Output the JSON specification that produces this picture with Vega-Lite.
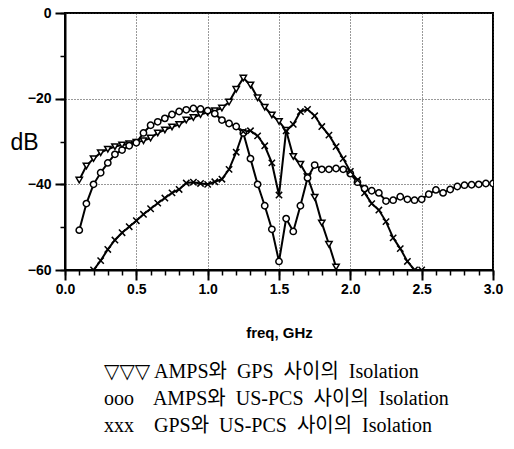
{
  "$schema": "https://vega.github.io/schema/vega-lite/v6.json",
  "width": 428,
  "height": 257,
  "autosize": {"type": "none"},
  "padding": {"left": 65, "top": 13, "right": 21, "bottom": 179},
  "background": "white",
  "config": {
    "view": {"stroke": "black", "strokeWidth": 2},
    "axisX": {"tickSize": 10, "ticks": true, "tickColor": "#000000", "tickWidth": 2},
    "axisY": {"tickSize": 10, "ticks": true, "tickColor": "#000000", "tickWidth": 2}
  },
  "resolve": {"axis": {"x": "independent", "y": "independent"}},
  "data": {
    "values": [
      {"f": 0.10, "d": -39.0, "s": "a"},
      {"f": 0.15, "d": -35.7, "s": "a"},
      {"f": 0.20, "d": -34.0, "s": "a"},
      {"f": 0.25, "d": -32.6, "s": "a"},
      {"f": 0.30, "d": -31.8, "s": "a"},
      {"f": 0.35, "d": -31.2, "s": "a"},
      {"f": 0.40, "d": -30.8, "s": "a"},
      {"f": 0.45, "d": -30.5, "s": "a"},
      {"f": 0.50, "d": -30.2, "s": "a"},
      {"f": 0.55, "d": -29.8, "s": "a"},
      {"f": 0.60, "d": -29.2, "s": "a"},
      {"f": 0.65, "d": -28.0, "s": "a"},
      {"f": 0.70, "d": -27.3, "s": "a"},
      {"f": 0.75, "d": -26.6, "s": "a"},
      {"f": 0.80, "d": -26.0, "s": "a"},
      {"f": 0.85, "d": -25.0, "s": "a"},
      {"f": 0.90, "d": -24.4, "s": "a"},
      {"f": 0.95, "d": -23.7, "s": "a"},
      {"f": 1.00, "d": -23.2, "s": "a"},
      {"f": 1.05, "d": -22.8, "s": "a"},
      {"f": 1.10, "d": -22.2, "s": "a"},
      {"f": 1.15, "d": -20.8, "s": "a"},
      {"f": 1.20, "d": -17.8, "s": "a"},
      {"f": 1.25, "d": -15.2, "s": "a"},
      {"f": 1.30, "d": -16.8, "s": "a"},
      {"f": 1.35, "d": -19.8, "s": "a"},
      {"f": 1.40, "d": -22.0, "s": "a"},
      {"f": 1.45, "d": -23.8, "s": "a"},
      {"f": 1.50, "d": -25.3, "s": "a"},
      {"f": 1.55, "d": -27.4, "s": "a"},
      {"f": 1.60, "d": -33.5, "s": "a"},
      {"f": 1.65, "d": -35.3, "s": "a"},
      {"f": 1.70, "d": -38.2, "s": "a"},
      {"f": 1.75, "d": -43.0, "s": "a"},
      {"f": 1.80, "d": -49.0, "s": "a"},
      {"f": 1.85, "d": -54.0, "s": "a"},
      {"f": 1.90, "d": -59.3, "s": "a"},
      {"f": 0.10, "d": -50.7, "s": "b"},
      {"f": 0.15, "d": -44.5, "s": "b"},
      {"f": 0.20, "d": -40.0, "s": "b"},
      {"f": 0.25, "d": -37.3, "s": "b"},
      {"f": 0.30, "d": -35.0, "s": "b"},
      {"f": 0.35, "d": -33.0, "s": "b"},
      {"f": 0.40, "d": -32.0, "s": "b"},
      {"f": 0.45, "d": -31.0, "s": "b"},
      {"f": 0.50, "d": -30.3, "s": "b"},
      {"f": 0.55, "d": -28.0, "s": "b"},
      {"f": 0.60, "d": -26.2, "s": "b"},
      {"f": 0.65, "d": -25.4, "s": "b"},
      {"f": 0.70, "d": -24.6, "s": "b"},
      {"f": 0.75, "d": -23.7, "s": "b"},
      {"f": 0.80, "d": -23.0, "s": "b"},
      {"f": 0.85, "d": -22.6, "s": "b"},
      {"f": 0.90, "d": -22.3, "s": "b"},
      {"f": 0.95, "d": -22.4, "s": "b"},
      {"f": 1.00, "d": -22.8, "s": "b"},
      {"f": 1.05, "d": -23.5, "s": "b"},
      {"f": 1.10, "d": -25.0, "s": "b"},
      {"f": 1.15, "d": -25.8, "s": "b"},
      {"f": 1.20, "d": -26.5, "s": "b"},
      {"f": 1.25, "d": -28.0, "s": "b"},
      {"f": 1.30, "d": -34.0, "s": "b"},
      {"f": 1.35, "d": -40.0, "s": "b"},
      {"f": 1.40, "d": -45.0, "s": "b"},
      {"f": 1.45, "d": -50.5, "s": "b"},
      {"f": 1.50, "d": -58.0, "s": "b"},
      {"f": 1.55, "d": -48.0, "s": "b"},
      {"f": 1.60, "d": -51.0, "s": "b"},
      {"f": 1.65, "d": -45.0, "s": "b"},
      {"f": 1.70, "d": -38.5, "s": "b"},
      {"f": 1.75, "d": -35.5, "s": "b"},
      {"f": 1.80, "d": -36.5, "s": "b"},
      {"f": 1.85, "d": -36.5, "s": "b"},
      {"f": 1.90, "d": -36.3, "s": "b"},
      {"f": 1.95, "d": -36.5, "s": "b"},
      {"f": 2.00, "d": -37.5, "s": "b"},
      {"f": 2.05, "d": -39.5, "s": "b"},
      {"f": 2.10, "d": -41.0, "s": "b"},
      {"f": 2.15, "d": -41.5, "s": "b"},
      {"f": 2.20, "d": -42.0, "s": "b"},
      {"f": 2.25, "d": -43.9, "s": "b"},
      {"f": 2.30, "d": -43.7, "s": "b"},
      {"f": 2.35, "d": -42.9, "s": "b"},
      {"f": 2.40, "d": -43.5, "s": "b"},
      {"f": 2.45, "d": -43.7, "s": "b"},
      {"f": 2.50, "d": -43.5, "s": "b"},
      {"f": 2.55, "d": -42.3, "s": "b"},
      {"f": 2.60, "d": -41.3, "s": "b"},
      {"f": 2.65, "d": -42.0, "s": "b"},
      {"f": 2.70, "d": -41.2, "s": "b"},
      {"f": 2.75, "d": -40.5, "s": "b"},
      {"f": 2.80, "d": -40.2, "s": "b"},
      {"f": 2.85, "d": -40.1, "s": "b"},
      {"f": 2.90, "d": -40.0, "s": "b"},
      {"f": 2.95, "d": -39.8, "s": "b"},
      {"f": 3.00, "d": -39.8, "s": "b"},
      {"f": 0.20, "d": -60.0, "s": "c"},
      {"f": 0.25, "d": -57.8, "s": "c"},
      {"f": 0.30, "d": -55.2, "s": "c"},
      {"f": 0.35, "d": -53.0, "s": "c"},
      {"f": 0.40, "d": -51.3, "s": "c"},
      {"f": 0.45, "d": -49.9, "s": "c"},
      {"f": 0.50, "d": -48.5, "s": "c"},
      {"f": 0.55, "d": -47.0, "s": "c"},
      {"f": 0.60, "d": -45.7, "s": "c"},
      {"f": 0.65, "d": -44.4, "s": "c"},
      {"f": 0.70, "d": -43.2, "s": "c"},
      {"f": 0.75, "d": -42.0, "s": "c"},
      {"f": 0.80, "d": -41.2, "s": "c"},
      {"f": 0.85, "d": -39.7, "s": "c"},
      {"f": 0.90, "d": -39.5, "s": "c"},
      {"f": 0.95, "d": -39.8, "s": "c"},
      {"f": 1.00, "d": -40.0, "s": "c"},
      {"f": 1.05, "d": -39.4, "s": "c"},
      {"f": 1.10, "d": -38.8, "s": "c"},
      {"f": 1.15, "d": -36.5, "s": "c"},
      {"f": 1.20, "d": -32.5, "s": "c"},
      {"f": 1.25, "d": -27.7, "s": "c"},
      {"f": 1.30, "d": -27.5, "s": "c"},
      {"f": 1.35, "d": -28.7, "s": "c"},
      {"f": 1.40, "d": -31.0, "s": "c"},
      {"f": 1.45, "d": -35.0, "s": "c"},
      {"f": 1.50, "d": -42.5, "s": "c"},
      {"f": 1.55, "d": -27.5, "s": "c"},
      {"f": 1.60, "d": -26.0, "s": "c"},
      {"f": 1.65, "d": -23.0, "s": "c"},
      {"f": 1.70, "d": -22.5, "s": "c"},
      {"f": 1.75, "d": -24.0, "s": "c"},
      {"f": 1.80, "d": -26.5, "s": "c"},
      {"f": 1.85, "d": -28.5, "s": "c"},
      {"f": 1.90, "d": -31.2, "s": "c"},
      {"f": 1.95, "d": -34.0, "s": "c"},
      {"f": 2.00, "d": -37.0, "s": "c"},
      {"f": 2.05, "d": -39.0, "s": "c"},
      {"f": 2.10, "d": -42.0, "s": "c"},
      {"f": 2.15, "d": -44.5, "s": "c"},
      {"f": 2.20, "d": -46.0, "s": "c"},
      {"f": 2.25, "d": -48.7, "s": "c"},
      {"f": 2.30, "d": -52.5, "s": "c"},
      {"f": 2.35, "d": -55.0, "s": "c"},
      {"f": 2.40, "d": -58.0, "s": "c"},
      {"f": 2.45, "d": -60.0, "s": "c"},
      {"f": 2.50, "d": -60.0, "s": "c"}
    ]
  },
  "layer": [
    {
      "mark": {"type": "line", "color": "black", "strokeWidth": 2, "clip": true},
      "encoding": {
        "x": {
          "field": "f",
          "type": "quantitative",
          "scale": {"domain": [0, 3], "nice": false, "zero": false},
          "axis": {
            "orient": "bottom",
            "tickCount": 6,
            "format": ".1f",
            "title": "freq, GHz",
            "titleFont": "Liberation Sans",
            "titleFontWeight": "bold",
            "titleFontSize": 15,
            "titleColor": "black",
            "titleY": 62,
            "titleBaseline": "middle",
            "domain": true,
            "domainColor": "black",
            "domainWidth": 2,
            "grid": true,
            "gridColor": "#333333",
            "gridDash": [1, 2],
            "labelFont": "Liberation Sans",
            "labelFontWeight": "bold",
            "labelFontSize": 14,
            "labelColor": "black",
            "labelPadding": 2,
            "labelBaseline": "top",
            "labelFlush": false
          }
        },
        "y": {
          "field": "d",
          "type": "quantitative",
          "scale": {"domain": [-60, 0], "nice": false, "zero": false},
          "axis": {
            "orient": "left",
            "tickCount": 3,
            "title": "dB",
            "titleFont": "Liberation Sans",
            "titleFontWeight": "normal",
            "titleFontSize": 23,
            "titleColor": "black",
            "titleAngle": 0,
            "titleX": -41,
            "titleY": 129,
            "titleAlign": "center",
            "titleBaseline": "middle",
            "domain": true,
            "domainColor": "black",
            "domainWidth": 2,
            "grid": true,
            "gridColor": "#333333",
            "gridDash": [1, 2],
            "labelFont": "Liberation Sans",
            "labelFontWeight": "bold",
            "labelFontSize": 14,
            "labelColor": "black",
            "labelPadding": 4,
            "labelFlush": false
          }
        },
        "detail": {"field": "s", "type": "nominal"}
      }
    },
    {
      "mark": {"type": "point", "fill": "white", "stroke": "black", "strokeWidth": 1.5, "size": 40, "opacity": 1, "clip": true},
      "encoding": {
        "x": {
          "field": "f",
          "type": "quantitative",
          "axis": {
            "orient": "bottom",
            "tickCount": 30,
            "title": null,
            "labels": false,
            "domain": false,
            "grid": false,
            "tickSize": 5,
            "tickWidth": 1.5
          }
        },
        "y": {
          "field": "d",
          "type": "quantitative",
          "axis": {
            "orient": "left",
            "tickCount": 6,
            "title": null,
            "labels": false,
            "domain": false,
            "grid": false,
            "tickSize": 5,
            "tickWidth": 1.5
          }
        },
        "shape": {
          "field": "s",
          "type": "nominal",
          "scale": {"domain": ["a", "b", "c"], "range": ["triangle-down", "circle", "M-1,-1L1,1M-1,1L1,-1"]},
          "legend": {
            "orient": "none",
            "legendX": 19,
            "legendY": 349,
            "title": null,
            "symbolSize": 0,
            "symbolOpacity": 0,
            "symbolStrokeWidth": 0,
            "labelOffset": 0,
            "labelFont": "Liberation Serif, DejaVu Sans, Noto Sans CJK KR",
            "labelFontSize": 20,
            "labelColor": "black",
            "labelLimit": 0,
            "rowPadding": 7,
            "labelExpr": "datum.value == 'a' ? '▽▽▽ AMPS와\u00a0 GPS\u00a0 사이의\u00a0 Isolation' : datum.value == 'b' ? 'ooo\u00a0\u00a0\u00a0 AMPS와\u00a0 US-PCS\u00a0 사이의\u00a0 Isolation' : 'xxx\u00a0\u00a0\u00a0 GPS와\u00a0 US-PCS\u00a0 사이의\u00a0 Isolation'"
          }
        }
      }
    }
  ]
}
